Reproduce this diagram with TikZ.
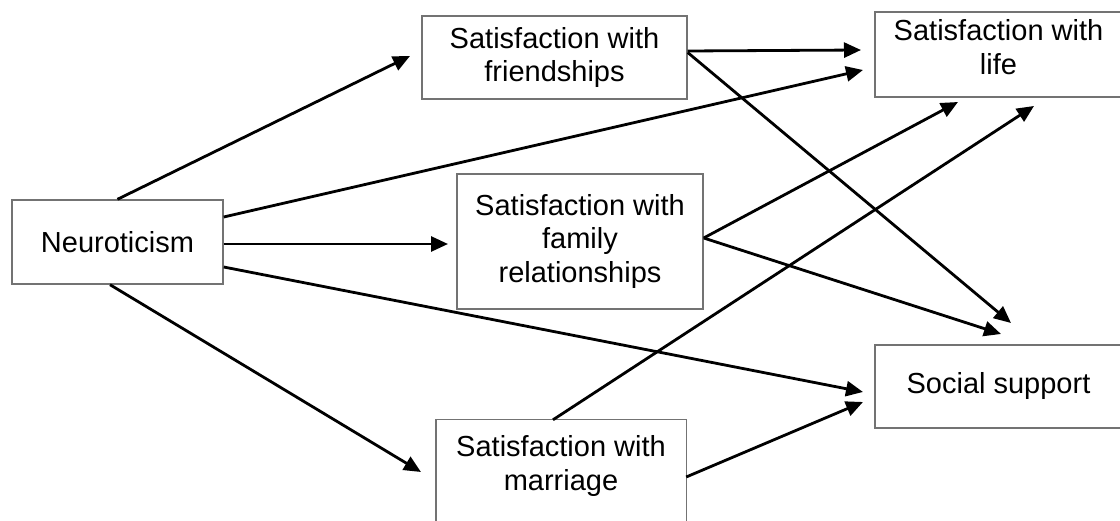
\documentclass[tikz,border=0pt]{standalone}
\usepackage{fontspec}
\setmainfont{Liberation Sans}
\usetikzlibrary{arrows.meta,calc}
\begin{document}
\begin{tikzpicture}[x=1pt,y=-1pt,
  boxline/.style={draw=black!55, line width=1.4pt},
  boxtext/.style={inner sep=0pt, align=center, font=\fontsize{29}{33.5}\selectfont},
  box/.style={boxline, boxtext},
  arr/.style={line width=2.8pt, -{Triangle[length=17pt,width=15pt]}}]
\useasboundingbox (0,0) rectangle (1120,521);
\clip (0,0) rectangle (1120,521);
% boxes
\node[box, minimum width=211pt, minimum height=84pt] (neu) at (117.5,242) {Neuroticism};
\node[box, minimum width=265pt, minimum height=83pt] (fr) at (554.5,57.5) {Satisfaction with\\friendships};
\node[box, minimum width=247pt, minimum height=85pt] (life) at (998.5,54.5) {};
\node[boxtext] (lifet) at (998.5,47) {Satisfaction with\\life};
\node[box, minimum width=246pt, minimum height=135pt] (fam) at (580,241.5) {Satisfaction with\\family\\relationships};
\node[box, minimum width=247pt, minimum height=83pt] (ss) at (998.5,386.5) {Social support};
\node[boxtext, minimum width=250pt, minimum height=86pt] (mar) at (561,463) {};
\node[boxtext] (mart) at (561,466) {Satisfaction with\\marriage};
\draw[boxline] ($(mar.south west)+(0,40)$) -- (mar.north west) -- (mar.north east) -- ($(mar.south east)+(0,40)$);
% arrow tips
\coordinate (t1) at (410,56);
\coordinate (t2) at (861,50);
\coordinate (t3) at (863,70);
\coordinate (t4) at (448,244);
\coordinate (t5) at (863,392);
\coordinate (t6) at (421,472);
\coordinate (t7) at (1011,323);
\coordinate (t8) at (958,102);
\coordinate (t9) at (1001,334);
\coordinate (t10) at (1034,106);
\coordinate (t11) at (863,402);
% connectors
\draw[arr] (neu.north) -- (t1);
\draw[arr] ($(fr.east)+(0,-6.5)$) -- (t2);
\draw[arr] ($(neu.east)+(0,-25)$) -- (t3);
\draw[arr] ($(neu.east)+(0,2)$) -- (t4);
\draw[arr] ($(neu.east)+(0,25)$) -- (t5);
\draw[arr] ($(neu.south)+(-7.5,0)$) -- (t6);
\draw[arr] ($(fr.east)+(0,-5)$) -- (t7);
\draw[arr] ($(fam.east)+(0,-3.5)$) -- (t8);
\draw[arr] ($(fam.east)+(0,-3.5)$) -- (t9);
\draw[arr] ($(mar.north)+(-8,0)$) -- (t10);
\draw[arr] ($(mar.east)+(0,14)$) -- (t11);
\end{tikzpicture}
\end{document}
